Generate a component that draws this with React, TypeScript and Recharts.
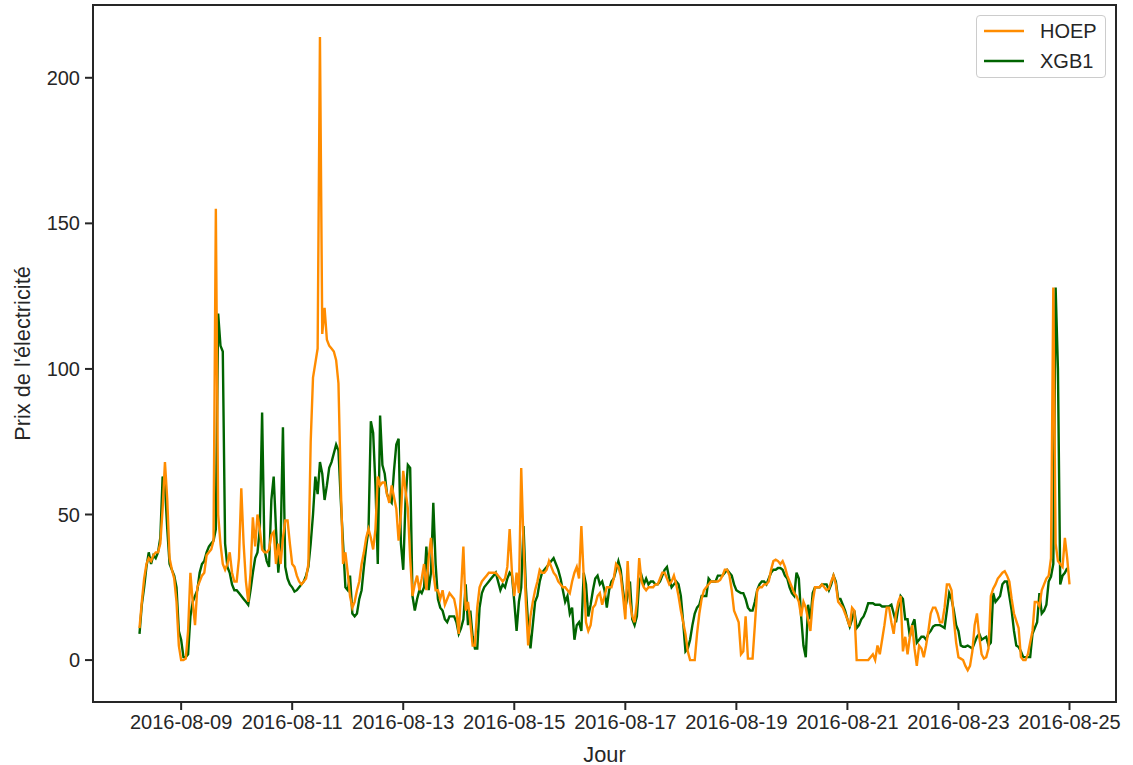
import { Legend, Line, LineChart, ReferenceArea, XAxis, YAxis } from "recharts";

// Hourly prices, first reading at 2016-08-08 06:00
const START = "2016-08-08T06:00:00Z";
const HOUR = 3600 * 1000;

// HOEP (observed), one row per day
const hoep = [
  11, 20, 28, 33, 35, 34, 36, 37, 37, 40, 52, 68, 55, 35, 31, 28, 20, 5,
  0, 0, 0.5, 10, 30, 20, 12, 25, 27, 29, 30, 36, 37, 38, 41, 155, 50, 40, 33, 31, 33, 37, 30, 27,
  27, 35, 59, 40, 27, 20, 30, 49, 39, 50, 45, 38, 37, 37, 38, 43, 44, 33, 40, 33, 42, 48, 48, 40,
  33, 32, 29, 27, 26, 27, 28, 33, 75, 97, 102, 107, 214, 112, 121, 110, 108, 107, 106, 103, 95, 60, 33, 37,
  30, 22, 18, 20, 24, 27, 33, 37, 42, 45, 42, 38, 45, 63, 60, 61, 61, 57, 54, 60, 56, 52, 41, 50,
  65, 58, 52, 35, 22, 26, 29, 24, 28, 33, 24, 35, 42, 30, 24, 24, 21, 24, 19, 21, 23, 22, 21, 17,
  9, 24, 39, 17, 20, 13, 5, 5, 18, 25, 27, 28, 29, 30, 30, 30, 30, 29, 28, 27, 28, 32, 45, 30,
  22, 30, 23, 66, 40, 20, 5, 15, 20, 24, 27, 31, 30, 30, 31, 34, 32, 30, 29, 27, 26, 25, 25, 24,
  23, 27, 30, 32, 28, 46, 29, 13, 10, 12, 18, 19, 22, 23, 19, 22, 25, 25, 25, 28, 33, 32, 29, 22,
  14, 34, 20, 15, 13, 20, 35, 27, 25, 24, 25, 25, 25, 26, 26, 28, 30, 30, 28, 26, 27, 29, 26, 22,
  17, 13, 9, 3, 0, 0, 0, 9, 16, 21, 24, 25, 26, 27, 27, 27, 27, 27.5, 29, 31, 31, 29, 24, 17,
  15, 13, 2, 3, 15, 0.5, 0.5, 0.5, 12, 24, 25, 25, 26, 26, 27, 31, 34, 34.5, 34, 33, 34, 32, 29, 27,
  25, 23, 22, 20, 15, 20, 18, 14, 10, 20, 25, 25, 25, 26, 25, 24, 24.5, 27, 29, 26, 20, 19, 18, 16,
  14, 11.5, 18, 17, 0, 0, 0, 0, 0, 0, 1, 2, 0, 5, 2, 7, 12, 18, 18, 13, 9, 16, 20, 22,
  3, 8, 2, 8, 12, 4, -2, 5, 4, 1, 5, 10, 16, 18, 18, 16, 13, 13, 18, 26, 26, 24, 14, 6,
  1, 0.5, 0, -2, -3.5, -2, 3, 12, 16, 8, 2, 0.5, 1, 4, 22, 24.5, 26, 28, 29, 30, 30.5, 29, 27, 21,
  16, 13.5, 11, 1, 0, 0, 2, 6, 10, 20, 20, 18.5, 24, 26, 28, 29, 35, 128, 40, 34, 33, 32, 42, 35, 26,
];

// XGB1 (model), one row per day
const xgb1 = [
  9, 19, 25, 32, 37, 33, 36, 35, 37, 42, 63, 60, 45, 33, 31, 29, 25, 10,
  7, 1, 1, 2, 15, 20, 22, 24, 30, 33, 34, 37, 39, 40, 41, 45, 119, 108, 106, 40, 32, 30, 26, 24,
  24, 23, 22, 21, 20, 19, 24, 30, 35, 37, 45, 85, 38, 34, 32, 55, 63, 45, 30, 40, 80, 32, 28, 26,
  25, 23.5, 24, 25, 26, 27, 29, 32, 40, 50, 63, 57, 68, 64, 55, 60, 66, 68, 71, 74, 72, 55, 40, 25,
  24, 29, 16, 15, 16, 21, 24, 32, 39, 45, 82, 78, 60, 33, 84, 67, 64, 57, 55, 54, 65, 74, 76, 40,
  31, 55, 67, 66, 22, 17, 21, 24, 23, 25, 39, 24, 30, 54, 33, 21, 18, 17, 14, 13, 15, 15, 15, 13,
  9, 11, 14, 26, 12, 17, 8, 4, 4, 18, 23, 25, 26, 27, 28, 29, 30, 27, 24, 26, 25, 28, 30, 29,
  20, 10, 20, 25, 46, 25, 12, 4, 12, 20, 22, 27, 30, 31, 32, 33, 34, 35, 33, 31, 28, 24, 20, 22,
  16, 18, 7, 12, 13, 10, 30, 26, 15, 19, 24, 28, 29, 26, 27, 24, 18, 24, 27, 28, 31, 34, 31, 24,
  18, 22, 27, 14, 12, 15, 27, 29, 26, 28, 26, 27, 27, 26, 26, 27, 29, 31, 32, 28, 25, 26, 27, 26,
  22, 13, 3, 4, 7, 12, 16, 18, 19, 22, 22, 22, 28, 27, 27, 27, 29, 29, 29, 30, 31, 30, 29, 26,
  24, 23.5, 23, 23, 21, 18, 17, 17, 20, 24, 26, 27, 27, 26, 28, 30, 31, 31, 31.6, 31.6, 31, 29, 28, 25,
  23, 22, 30, 28, 15, 5, 1, 19, 14, 23, 25, 25, 25, 26, 26, 26, 24, 26, 29, 27, 21, 21, 19, 17,
  14, 11.5, 14, 17, 11, 12, 14, 15, 17, 19.5, 19.5, 19.5, 19, 19, 19, 18.4, 18.4, 18.4, 18.5, 19, 16, 13, 18, 22,
  21, 14, 14, 8, 12, 14, 6, 7, 8, 8, 7, 9, 10, 11.5, 12, 12, 12, 11.5, 11, 17, 23, 21, 17, 12,
  10, 5, 4.6, 4.6, 5, 4.5, 4, 6, 8, 9, 7, 7.5, 8, 5, 6, 23, 20, 21, 22, 26, 27, 27, 22, 17,
  10, 5, 4.5, 3, 1, 1, 1, 1, 9, 11, 13, 23, 16, 17, 19, 27, 28.7, 33, 128, 100, 26, 29, 30, 31.6,
];

const dateTicks = [
  "2016-08-09", "2016-08-11", "2016-08-13", "2016-08-15", "2016-08-17",
  "2016-08-19", "2016-08-21", "2016-08-23", "2016-08-25",
];
const priceTicks = [0, 50, 100, 150, 200];

const series = [
  { key: "hoep", name: "HOEP", color: "#ff8c00" },
  { key: "xgb1", name: "XGB1", color: "#006400" },
];

const t0 = Date.parse(START);
const data = hoep.map((v, i) => ({
  t: t0 + i * HOUR,
  hoep: v,
  xgb1: i < xgb1.length ? xgb1[i] : null,
}));

// 5% padding on each side like matplotlib's autoscale
const tLast = t0 + (hoep.length - 1) * HOUR;
const tPad = (tLast - t0) * 0.05;
const xDomain = [t0 - tPad, tLast + tPad];
const yDomain = [-14.4, 225];

const FONT = "'Liberation Sans', Arial, sans-serif";
const INK = "#262626";

function YLabel({ viewBox }: any) {
  const cx = viewBox.x + 22;
  const cy = viewBox.y + viewBox.height / 2;
  return (
    <text
      x={cx}
      y={cy}
      transform={`rotate(-90 ${cx} ${cy})`}
      textAnchor="middle"
      dominantBaseline="central"
      fill={INK}
      fontSize={21.75}
      fontFamily={FONT}
    >
      Prix de l'électricité
    </text>
  );
}

function XLabel({ viewBox }: any) {
  const cx = viewBox.x + viewBox.width / 2;
  const cy = viewBox.y + 52;
  return (
    <text x={cx} y={cy} textAnchor="middle" dominantBaseline="central" fill={INK} fontSize={21.75} fontFamily={FONT}>
      Jour
    </text>
  );
}

function LegendBox() {
  return (
    <div
      style={{
        boxSizing: "border-box",
        width: 130,
        height: 63,
        border: "1px solid #cccccc",
        borderRadius: 4,
        background: "rgba(255,255,255,0.8)",
        padding: "0 0 0 7px",
        fontFamily: FONT,
        fontSize: 20,
        color: INK,
      }}
    >
      {series.map((s) => (
        <div key={s.key} style={{ display: "flex", alignItems: "center", height: 30 }}>
          <svg width={40} height={10} style={{ marginRight: 16 }}>
            <line x1={0} y1={5} x2={40} y2={5} stroke={s.color} strokeWidth={2.5} />
          </svg>
          <span>{s.name}</span>
        </div>
      ))}
    </div>
  );
}

export default function App() {
  return (
    <div style={{ position: "absolute", left: 0, top: 0, width: 1133, height: 765, background: "#fff" }}>
      <LineChart width={1133} height={765} data={data} margin={{ top: 5, right: 17, bottom: 0, left: 0 }}>
        <XAxis
          dataKey="t"
          type="number"
          domain={xDomain}
          ticks={dateTicks.map((d) => Date.parse(d + "T00:00:00Z"))}
          tickFormatter={(v: number) => new Date(v).toISOString().slice(0, 10)}
          height={63}
          axisLine={false}
          tickSize={8}
          tickMargin={5}
          tickLine={{ stroke: INK, strokeWidth: 2 }}
          tick={{ fill: INK, fontSize: 20, fontFamily: FONT }}
          interval={0}
          allowDataOverflow
          label={<XLabel />}
        />
        <YAxis
          type="number"
          domain={yDomain}
          ticks={priceTicks}
          width={93}
          axisLine={false}
          tickSize={8}
          tickMargin={5}
          tickLine={{ stroke: INK, strokeWidth: 2 }}
          tick={{ fill: INK, fontSize: 20, fontFamily: FONT }}
          interval={0}
          allowDataOverflow
          label={<YLabel />}
        />
        <ReferenceArea
          x1={xDomain[0]}
          x2={xDomain[1]}
          y1={yDomain[0]}
          y2={yDomain[1]}
          fill="none"
          fillOpacity={0}
          stroke={INK}
          strokeWidth={2}
          ifOverflow="visible"
        />
        <Line
          dataKey="xgb1"
          name="XGB1"
          stroke="#006400"
          strokeWidth={2.4}
          dot={false}
          isAnimationActive={false}
          connectNulls={false}
        />
        <Line
          dataKey="hoep"
          name="HOEP"
          stroke="#ff8c00"
          strokeWidth={2.4}
          dot={false}
          isAnimationActive={false}
        />
        <Legend
          layout="vertical"
          align="center"
          verticalAlign="middle"
          wrapperStyle={{ left: 976, top: 15, width: 130, height: 63 }}
          content={<LegendBox />}
        />
      </LineChart>
    </div>
  );
}
